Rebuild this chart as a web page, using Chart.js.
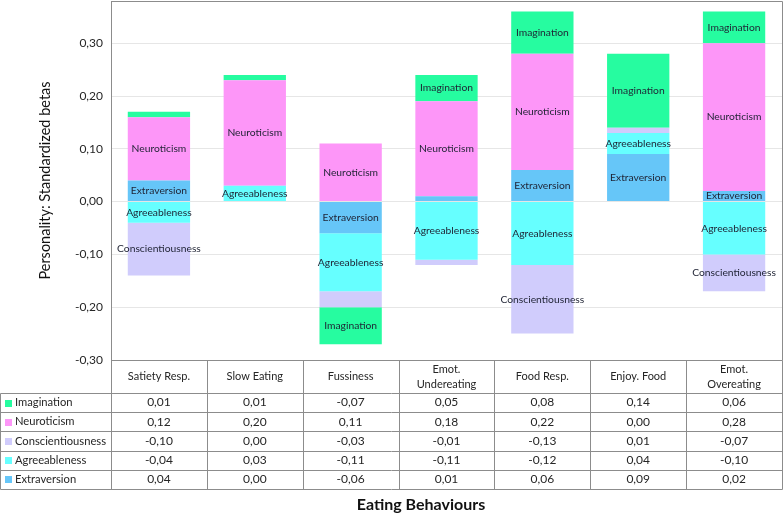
<!DOCTYPE html>
<html>
<head>
<meta charset="utf-8">
<script src="https://cdn.jsdelivr.net/npm/chart.js@4.4.1/dist/chart.umd.min.js"></script>
<style>
  html, body { margin: 0; padding: 0; background: #fff; }
  #wrap { width: 784px; height: 514px; }
</style>
</head>
<body>
<div id="wrap"><canvas id="chart"></canvas></div>
<script>
// eating behaviours (header lines of the data table)
const categories = [
  ["Satiety Resp."], ["Slow Eating"], ["Fussiness"], ["Emot.", "Undereating"],
  ["Food Resp."], ["Enjoy. Food"], ["Emot.", "Overeating"]
];

// standardized betas per personality trait (stack order = dataset order)
const extraversion      = [0.04, 0.00, -0.06, 0.01, 0.06, 0.09, 0.02];
const agreeableness     = [-0.04, 0.03, -0.11, -0.11, -0.12, 0.04, -0.10];
const conscientiousness = [-0.10, 0.00, -0.03, -0.01, -0.13, 0.01, -0.07];
const neuroticism       = [0.12, 0.20, 0.11, 0.18, 0.22, 0.00, 0.28];
const imagination       = [0.01, 0.01, -0.07, 0.05, 0.08, 0.14, 0.06];

// segments whose name is not written in the bar, and one spelled differently
const hiddenLabels = [["Conscientiousness", 2]];
const labelOverrides = [["Agreeableness", 4, "Agreableness"]];

const colors = {
  Extraversion: "#66c6f8",
  Agreeableness: "#66ffff",
  Conscientiousness: "#d0ccfc",
  Neuroticism: "#fd96f8",
  Imagination: "#26fca0"
};

Chart.defaults.font.family = "Lato, 'Open Sans', sans-serif";

const fmt = v => v.toFixed(2).replace(".", ",");
const LINE = "#8c8c8c";
const TEXT = "#262626";
const crisp = v => Math.round(v) + 0.5;

const barLabels = {
  id: "barLabels",
  afterDatasetsDraw(chart) {
    const ctx = chart.ctx;
    ctx.save();
    ctx.font = "10.3px Lato";
    ctx.fillStyle = "#1e2233";
    ctx.textAlign = "center";
    ctx.textBaseline = "middle";
    chart.data.datasets.forEach((ds, di) => {
      chart.getDatasetMeta(di).data.forEach((bar, i) => {
        const v = ds.data[i];
        if (Math.abs(v) < 0.0199) return;
        if (hiddenLabels.some(h => h[0] === ds.label && h[1] === i)) return;
        const ov = labelOverrides.find(o => o[0] === ds.label && o[1] === i);
        ctx.fillText(ov ? ov[2] : ds.label, bar.x, (bar.y + bar.base) / 2);
      });
    });
    ctx.restore();
  }
};

const dataTable = {
  id: "dataTable",
  afterDraw(chart) {
    const { ctx, chartArea: a } = chart;
    const n = chart.data.labels.length;
    const colW = (a.right - a.left) / n;
    const top = a.bottom, headH = 33, rowH = 19.2;
    const rows = chart.data.datasets.slice().reverse();
    const bottom = top + headH + rowH * rows.length;

    ctx.save();
    // plot frame (top and right)
    ctx.strokeStyle = LINE;
    ctx.lineWidth = 1;
    ctx.beginPath();
    ctx.moveTo(crisp(a.left), crisp(a.top));
    ctx.lineTo(crisp(a.right), crisp(a.top));
    ctx.lineTo(crisp(a.right), crisp(a.bottom));
    // table grid
    ctx.moveTo(crisp(a.left), crisp(top));
    ctx.lineTo(crisp(a.right), crisp(top));
    for (let r = 0; r <= rows.length; r++) {
      const y = crisp(top + headH + r * rowH);
      ctx.moveTo(0.5, y);
      ctx.lineTo(crisp(a.right), y);
    }
    ctx.moveTo(0.5, crisp(top + headH));
    ctx.lineTo(0.5, crisp(bottom));
    for (let c = 0; c <= n; c++) {
      const x = crisp(a.left + c * colW);
      ctx.moveTo(x, crisp(top));
      ctx.lineTo(x, crisp(bottom));
    }
    ctx.stroke();

    // header
    ctx.fillStyle = TEXT;
    ctx.textAlign = "center";
    ctx.textBaseline = "middle";
    ctx.font = "11px Lato";
    chart.data.labels.forEach((lines, i) => {
      const cx = chart.scales.x.getPixelForValue(i);
      const cy = top + headH / 2;
      lines.forEach((t, k) => {
        ctx.fillText(t, cx, cy + (k - (lines.length - 1) / 2) * 15);
      });
    });

    // rows
    rows.forEach((ds, r) => {
      const cy = top + headH + r * rowH + rowH / 2;
      ctx.fillStyle = ds.backgroundColor;
      ctx.fillRect(5, Math.round(cy) - 3, 7, 7);
      ctx.fillStyle = TEXT;
      ctx.textAlign = "left";
      ctx.font = "11.2px Lato";
      ctx.fillText(ds.label, 15, cy);
      ctx.textAlign = "center";
      ctx.font = "12px Lato";
      ds.data.forEach((v, i) => {
        ctx.fillText(fmt(v), chart.scales.x.getPixelForValue(i), cy);
      });
    });

    // x axis title
    ctx.fillStyle = "#111";
    ctx.font = "bold 16px Lato";
    ctx.textAlign = "center";
    ctx.fillText("Eating Behaviours", a.left + (a.right - a.left) * 0.462, chart.height - 9);
    ctx.restore();
  }
};

const series = [
  ["Extraversion", extraversion],
  ["Agreeableness", agreeableness],
  ["Conscientiousness", conscientiousness],
  ["Neuroticism", neuroticism],
  ["Imagination", imagination]
];

new Chart(document.getElementById("chart"), {
  type: "bar",
  data: {
    labels: categories,
    datasets: series.map(([label, data]) => ({
      label,
      data,
      backgroundColor: colors[label],
      borderWidth: 0,
      categoryPercentage: 1,
      barPercentage: 0.65
    }))
  },
  options: {
    responsive: true,
    maintainAspectRatio: false,
    animation: false,
    layout: { padding: { top: 1, right: 2, left: 0, bottom: 0 } },
    plugins: {
      legend: { display: false },
      tooltip: { enabled: false }
    },
    scales: {
      x: {
        stacked: true,
        ticks: { display: false },
        grid: { display: false },
        border: { display: false },
        afterFit: s => { s.height = 154; s.paddingLeft = 0; s.paddingRight = 0; }
      },
      y: {
        stacked: true,
        min: -0.30,
        max: 0.38,
        ticks: {
          stepSize: 0.1,
          padding: 8,
          color: TEXT,
          font: { size: 12 },
          callback: v => fmt(v)
        },
        afterBuildTicks: s => {
          s.ticks = s.ticks.filter(t => Math.abs(t.value * 10 - Math.round(t.value * 10)) < 1e-6);
        },
        afterFit: s => { s.width = 111; s.paddingTop = 0; s.paddingBottom = 0; },
        grid: { color: "#e6e6e6", drawTicks: false },
        border: { color: LINE },
        title: {
          display: true,
          text: "Personality: Standardized betas",
          color: "#111",
          font: { size: 14.5 },
          padding: { top: 37, bottom: 0 }
        }
      }
    }
  },
  plugins: [barLabels, dataTable]
});
</script>
</body>
</html>
